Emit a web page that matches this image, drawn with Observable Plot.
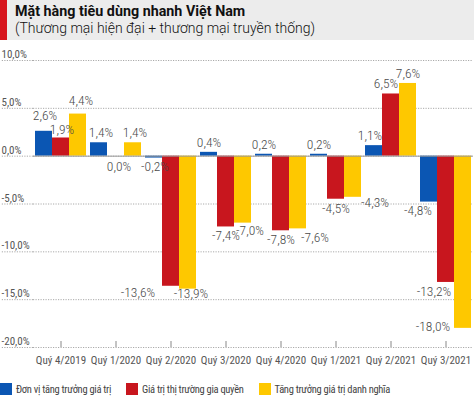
<!DOCTYPE html>
<html>
<head>
<meta charset="utf-8">
<script src="https://cdn.jsdelivr.net/npm/d3@7"></script>
<script src="https://cdn.jsdelivr.net/npm/@observablehq/plot@0.6"></script>
<style>
  body { margin: 0; background: #fff; width: 474px; overflow: hidden; }
  .narrow { font-family: "Roboto Condensed", "Liberation Sans Narrow", "DejaVu Sans Condensed", Roboto, sans-serif; font-stretch: condensed; }
  #head { height: 40px; background: #ececec; position: relative; font-family: Roboto, "Noto Sans", sans-serif; color: #111; }
  #head .bar { position: absolute; left: 0; top: 0; width: 7px; height: 40px; background: #d7141d; }
  #head .t { position: absolute; left: 15px; top: 3px; font-size: 14.3px; font-weight: 700; }
  #head .s { position: absolute; left: 15px; top: 20px; font-size: 14px; font-weight: 300; }
  #legend { display: flex; align-items: center; height: 14px; margin-top: 5px; font-size: 10.5px; letter-spacing: -0.3px; color: #444; }
  #legend .sw { width: 12px; height: 12px; display: inline-block; margin-right: 4px; }
  #legend .it { display: flex; align-items: center; margin-right: 15px; }
</style>
</head>
<body>
<div id="head"><div class="bar"></div><div class="t">Mặt hàng tiêu dùng nhanh Việt Nam</div><div class="s">(Thương mại hiện đại + thương mại truyền thống)</div></div>
<div id="chart"></div>
<div id="legend" class="narrow"></div>
<script>
const quarters = ["Quý 4/2019","Quý 1/2020","Quý 2/2020","Quý 3/2020","Quý 4/2020","Quý 1/2021","Quý 2/2021","Quý 3/2021"];
const seriesNames = ["Đơn vị tăng trưởng giá trị","Giá trị thị trường gia quyền","Tăng trưởng giá trị danh nghĩa"];
const unitGrowth  = [2.6, 1.4, -0.2, 0.4, 0.2, 0.2, 1.1, -4.8];
const marketValue = [1.9, 0.0, -13.6, -7.4, -7.8, -4.5, 6.5, -13.2];
const nominal     = [4.4, 1.4, -13.9, -7.0, -7.6, -4.3, 7.6, -18.0];
const yTicks = [10, 5, 0, -5, -10, -15, -20];
const colors = ["#0b56b3", "#c8161e", "#fec800"];

const seriesValues = [unitGrowth, marketValue, nominal];
const rows = quarters.flatMap((q, i) => seriesNames.map((s, j) => ({quarter: q, series: s, value: seriesValues[j][i], qi: i, si: j})));
const fmt = v => v.toFixed(1).replace(".", ",") + "%";

// label nudges (layout only): key "quarterIndex-seriesIndex" -> [dx, dy]
const nudge = {
  "0-0": [1, -6], "0-1": [1, 2], "0-2": [3, -3],
  "1-0": [2, 0], "1-1": [3, 2], "1-2": [2, 0],
  "2-0": [1, 0], "2-1": [-33, -3], "2-2": [3, -4],
  "3-2": [7, -1],
  "4-2": [17, 0],
  "5-2": [22, -4],
  "6-0": [-4, 0], "6-1": [-5, 0],
  "7-0": [-11, 0], "7-1": [-12, 0], "7-2": [-30, -11]
};

const font = '"Roboto Condensed", "Liberation Sans Narrow", "DejaVu Sans Condensed", Roboto, sans-serif';

const labelMarks = rows.map(r => {
  const [ndx, ndy] = nudge[r.qi + "-" + r.si] || [0, 0];
  const base = r.value > 0 ? -10 : 9;
  return Plot.text([r], {
    fx: "quarter", x: "series", y: "value", text: d => fmt(d.value),
    dx: ndx, dy: base + ndy, fill: "#4a4a4a", fontSize: 13.5, fontWeight: 300
  });
});

const chart = Plot.plot({
  width: 474, height: 337,
  marginTop: 20, marginBottom: 30, marginLeft: 32, marginRight: 0,
  style: {fontFamily: font, fontStretch: "condensed", fontSize: "11px", color: "#555", background: "transparent"},
  fx: {domain: quarters, padding: 0, label: null},
  x: {domain: seriesNames, paddingInner: 0, paddingOuter: 0.11, axis: null},
  y: {domain: [-20, 10], label: null},
  color: {domain: seriesNames, range: colors},
  marks: [
    Plot.gridY({ticks: yTicks, stroke: "#aaa", strokeOpacity: 1, strokeDasharray: "1.2,1.3"}),
    Plot.axisY({ticks: yTicks, tickSize: 32, tickFormat: () => "", stroke: "#aaa", strokeDasharray: "1.2,1.3"}),
    Plot.axisY({ticks: yTicks, tickSize: 0, tickPadding: 32, textAnchor: "start", dy: -6, tickFormat: fmt, fill: "#555", fontSize: 11, label: null}),
    Plot.barY(rows, {fx: "quarter", x: "series", y: "value", fill: "series"}),
    Plot.ruleY([0], {stroke: "#999", strokeWidth: 1}),
    Plot.axisFx({anchor: "bottom", tickSize: -6, tickPadding: 15, stroke: "#888", fill: "#555", fontSize: 11, label: null}),
    ...labelMarks
  ]
});
document.getElementById("chart").appendChild(chart);

const legend = document.getElementById("legend");
seriesNames.forEach((s, i) => {
  const it = document.createElement("div");
  it.className = "it";
  it.innerHTML = `<span class="sw" style="background:${colors[i]}"></span><span>${s}</span>`;
  legend.appendChild(it);
});
</script>
</body>
</html>
